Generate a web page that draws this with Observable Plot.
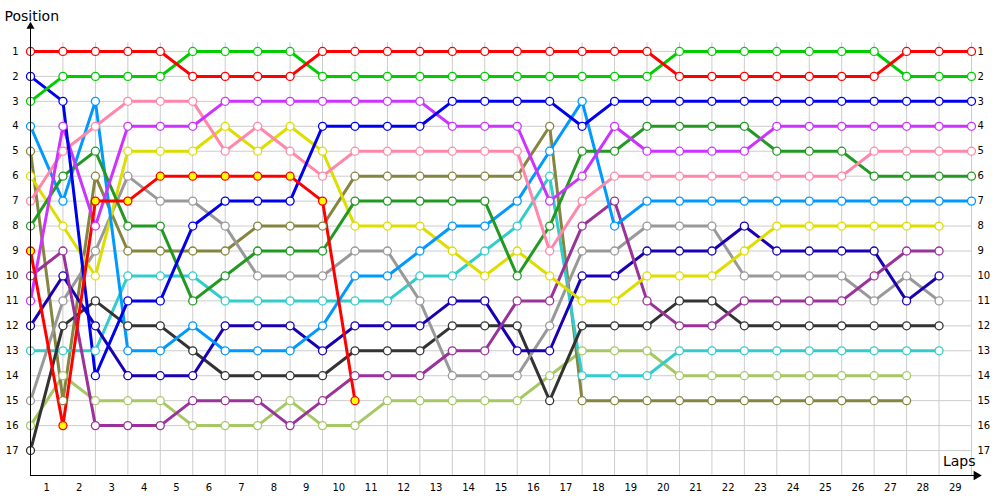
<!DOCTYPE html>
<html><head><meta charset="utf-8">
<script src="https://cdn.jsdelivr.net/npm/d3@7"></script>
<script src="https://cdn.jsdelivr.net/npm/@observablehq/plot@0.6"></script>
<style>body{margin:0;background:#fff;font-family:"DejaVu Sans",sans-serif}</style>
</head><body><div id="chart"></div>
<script>
const lapGrid = d3.range(0, 30);
const lapLabels = d3.range(1, 30);
const positionLabels = d3.range(1, 18);

const driverRed    = [1,1,1,1,1,2,2,2,2,1,1,1,1,1,1,1,1,1,1,1,2,2,2,2,2,2,2,1,1,1];
const driverGreen  = [3,2,2,2,2,1,1,1,1,2,2,2,2,2,2,2,2,2,2,2,1,1,1,1,1,1,1,2,2,2];
const driverBlue   = [2,3,14,11,11,8,7,7,7,4,4,4,4,3,3,3,3,4,3,3,3,3,3,3,3,3,3,3,3,3];
const driverViolet = [11,4,8,4,4,4,3,3,3,3,3,3,3,4,4,4,7,6,4,5,5,5,5,4,4,4,4,4,4,4];
const driverPink   = [7,5,4,3,3,3,5,4,5,6,5,5,5,5,5,5,9,7,6,6,6,6,6,6,6,6,5,5,5,5];
const driverDkGreen= [8,6,5,8,8,11,10,9,9,9,7,7,7,7,7,10,8,5,5,4,4,4,4,5,5,5,6,6,6,6];
const driverSky    = [4,7,3,13,13,12,13,13,13,12,10,10,9,8,8,7,5,3,8,7,7,7,7,7,7,7,7,7,7,7];
const driverYellow = [6,8,10,5,5,5,4,5,4,5,8,8,8,9,10,9,10,11,11,10,10,10,9,8,8,8,8,8,8];
const driverPurple = [10,9,16,16,16,15,15,15,16,15,14,14,14,13,13,11,11,8,7,11,12,12,11,11,11,11,10,9,9];
const driverNavy   = [12,10,12,14,14,14,12,12,12,13,12,12,12,11,11,13,13,10,10,9,9,9,8,9,9,9,9,11,10];
const driverGray   = [15,11,9,6,7,7,8,10,10,10,9,9,11,14,14,14,12,9,9,8,8,8,10,10,10,10,11,10,11];
const driverBlack  = [17,12,11,12,12,13,14,14,14,14,13,13,13,12,12,12,15,12,12,12,11,11,12,12,12,12,12,12,12];
const driverCyan   = [13,13,13,10,10,10,11,11,11,11,11,11,10,10,9,8,6,14,14,14,13,13,13,13,13,13,13,13,13];
const driverOlive  = [5,15,6,9,9,9,9,8,8,8,6,6,6,6,6,6,4,15,15,15,15,15,15,15,15,15,15,15];
const driverLime   = [16,14,15,15,15,16,16,16,15,16,16,15,15,15,15,15,14,13,13,13,14,14,14,14,14,14,14,14];
const driverRedY   = [9,16,7,7,6,6,6,6,6,7,15];

const seriesValues = [driverLime, driverOlive, driverCyan, driverBlack, driverGray, driverNavy, driverPurple,
  driverYellow, driverSky, driverDkGreen, driverPink, driverViolet, driverBlue, driverRedY, driverGreen, driverRed];
const seriesColors = ["#a6c864", "#85853f", "#33cccc", "#333333", "#999999", "#1a00b4", "#993399",
  "#dddd00", "#0099ff", "#229922", "#ff88aa", "#cc33ff", "#0000ee", "#ff0000", "#00cc00", "#ff0000"];
const markerFills = seriesColors.map((c, i) => seriesValues[i] === driverRedY ? "#ffff00" : "#ffffff");

const lineMarks = [];
const dotMarks = [];
seriesValues.forEach((vals, i) => {
  const rows = vals.map((p, lap) => ({lap, pos: p}));
  lineMarks.push(Plot.line(rows, {x: "lap", y: "pos", stroke: seriesColors[i], strokeWidth: 3}));
  dotMarks.push(Plot.dot(rows, {x: "lap", y: "pos", r: 4, fill: markerFills[i], stroke: seriesColors[i], strokeWidth: 1.3}));
});

const font = "DejaVu Sans";
const chart = Plot.plot({
  width: 1000, height: 500,
  marginLeft: 30, marginRight: 29, marginTop: 26, marginBottom: 25,
  style: {fontFamily: font, fontSize: "10px", background: "#fff"},
  x: {domain: [0, 29]},
  y: {domain: [18, 0], reverse: false},
  marks: [
    Plot.ruleY(positionLabels, {y: d => d, x1: 0, x2: 29, stroke: "#cccccc", strokeWidth: 1}),
    Plot.ruleX(lapGrid, {x: d => d, y1: 0.65, y2: 18, stroke: "#cccccc", strokeWidth: 1}),
    Plot.axisY(positionLabels, {anchor: "left", tickSize: 0, tickPadding: 12, label: null, fontSize: 10, fill: "#000"}),
    Plot.axisY(positionLabels, {anchor: "right", tickSize: 0, tickPadding: 6, label: null, fontSize: 10, textAnchor: "start", fill: "#000"}),
    Plot.axisX(lapLabels.map(k => k - 0.5), {anchor: "bottom", tickSize: 0, tickPadding: 8, tickFormat: d => String(Math.round(d + 0.5)), label: null, fontSize: 10, fill: "#000"}),
    ...lineMarks,
    ...dotMarks,
    Plot.ruleX([0], {x: 0, y1: 0, y2: 18, stroke: "#000", strokeWidth: 1}),
    Plot.ruleY([18], {y: 18, x1: 0, x2: 29.1, stroke: "#000", strokeWidth: 1}),
    Plot.dot([0], {x: 29.15, y: 18, symbol: "triangle", rotate: 90, r: 3.5, fill: "#000", stroke: "none"}),
    Plot.dot([0], {x: 0, y: 0, symbol: "triangle", r: 3, fill: "#000", stroke: "none"}),
    Plot.text(["Position"], {frameAnchor: "top-left", dx: -26, dy: -15, textAnchor: "start", fontSize: 14, fill: "#000"}),
    Plot.text(["Laps"], {frameAnchor: "bottom-right", dx: 4, dy: -10, textAnchor: "end", fontSize: 14, fill: "#000"})
  ]
});
document.getElementById("chart").appendChild(chart);
</script>
</body></html>
